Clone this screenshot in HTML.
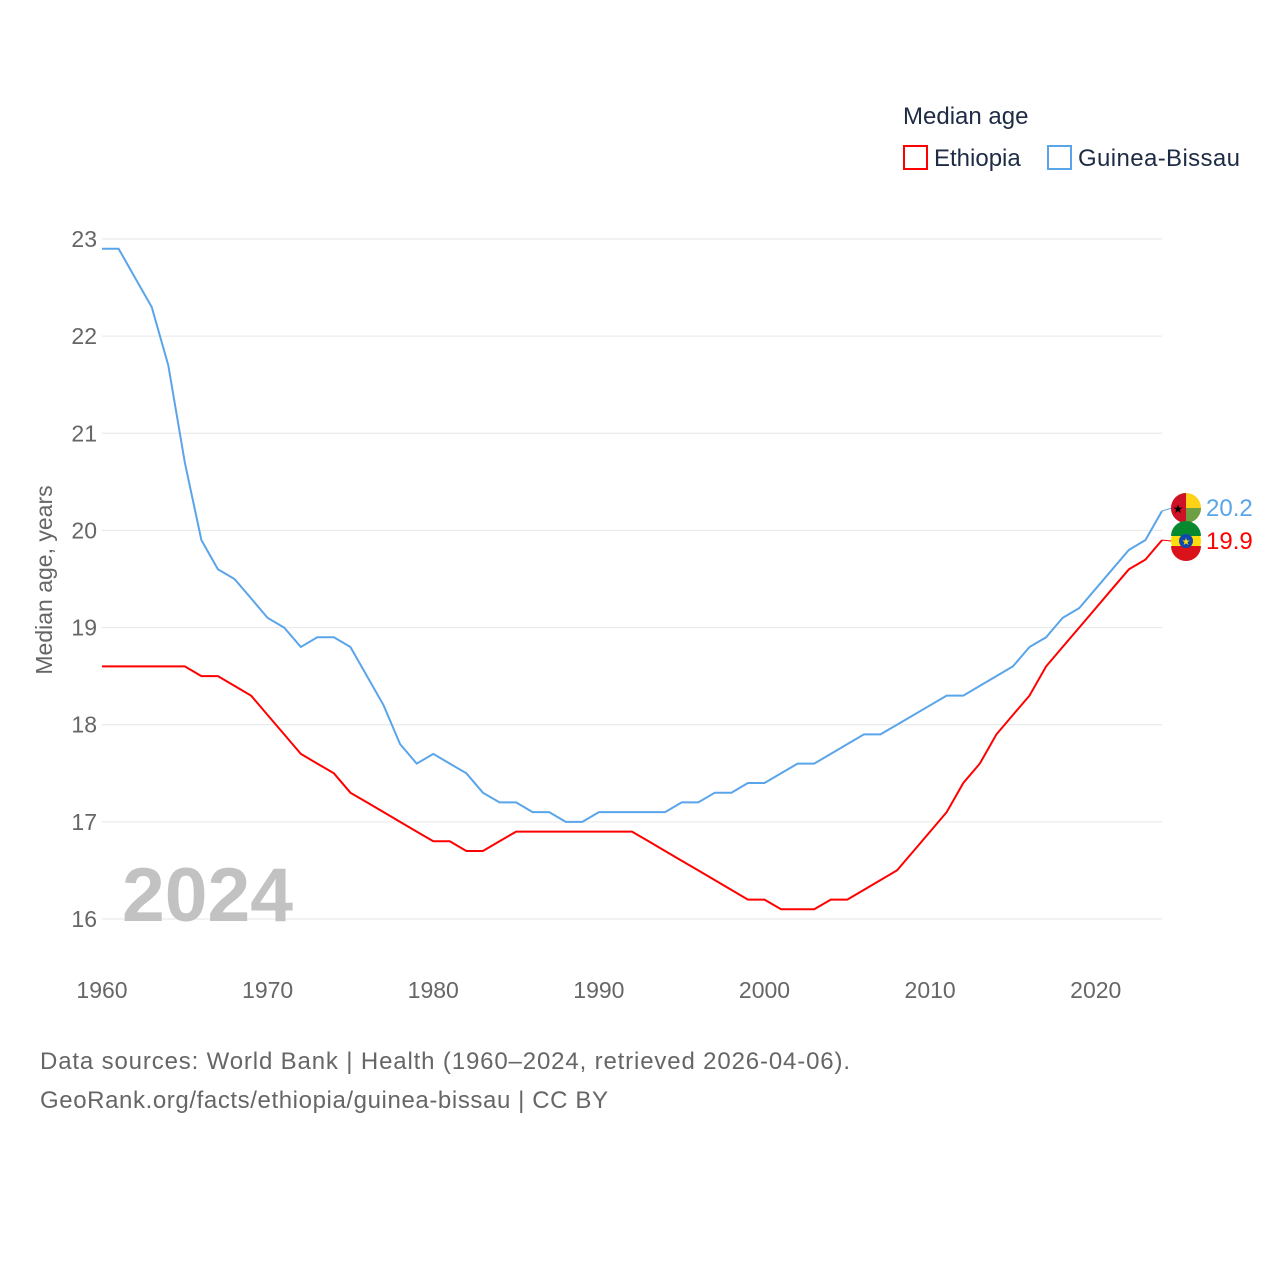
<!DOCTYPE html>
<html><head><meta charset="utf-8">
<style>
body{margin:0;background:#fff;font-family:"Liberation Sans",sans-serif;}
svg text{font-family:"Liberation Sans",sans-serif;}
</style></head>
<body>
<svg id="chart" width="1280" height="1280" viewBox="0 0 1280 1280">
  <g>
    <text x="903" y="124" font-size="24" fill="#1d2b44">Median age</text>
    <rect x="904" y="146" width="23" height="23" fill="none" stroke="#ff0000" stroke-width="2"/>
    <text x="934" y="166" font-size="24" fill="#1d2b44">Ethiopia</text>
    <rect x="1048" y="146" width="23" height="23" fill="none" stroke="#5aa5ea" stroke-width="2"/>
    <text x="1078" y="166" font-size="24" fill="#1d2b44" textLength="162">Guinea-Bissau</text>
  </g>
  <g id="grid"></g>
  <g id="yticks"></g>
  <g id="xticks"></g>
  <text x="52" y="580" font-size="23" fill="#666" transform="rotate(-90 52 580)" text-anchor="middle">Median age, years</text>
  <text x="122" y="921" font-size="76" font-weight="bold" fill="#c2c2c2" textLength="171" lengthAdjust="spacingAndGlyphs">2024</text>
  <g id="series"></g>
  <text x="40" y="1069" font-size="24" fill="#666" textLength="810">Data sources: World Bank | Health (1960–2024, retrieved 2026-04-06).</text>
  <text x="40" y="1108" font-size="24" fill="#666" textLength="568">GeoRank.org/facts/ethiopia/guinea-bissau | CC BY</text>
</svg>
<script>
const years = [];
for (let y = 1960; y <= 2024; y++) years.push(y);
const guineaBissau = [22.9,22.9,22.6,22.3,21.7,20.7,19.9,19.6,19.5,19.3,19.1,19.0,18.8,18.9,18.9,18.8,18.5,18.2,17.8,17.6,17.7,17.6,17.5,17.3,17.2,17.2,17.1,17.1,17.0,17.0,17.1,17.1,17.1,17.1,17.1,17.2,17.2,17.3,17.3,17.4,17.4,17.5,17.6,17.6,17.7,17.8,17.9,17.9,18.0,18.1,18.2,18.3,18.3,18.4,18.5,18.6,18.8,18.9,19.1,19.2,19.4,19.6,19.8,19.9,20.2];
const ethiopia = [18.6,18.6,18.6,18.6,18.6,18.6,18.5,18.5,18.4,18.3,18.1,17.9,17.7,17.6,17.5,17.3,17.2,17.1,17.0,16.9,16.8,16.8,16.7,16.7,16.8,16.9,16.9,16.9,16.9,16.9,16.9,16.9,16.9,16.8,16.7,16.6,16.5,16.4,16.3,16.2,16.2,16.1,16.1,16.1,16.2,16.2,16.3,16.4,16.5,16.7,16.9,17.1,17.4,17.6,17.9,18.1,18.3,18.6,18.8,19.0,19.2,19.4,19.6,19.7,19.9];
const yTicks = [16,17,18,19,20,21,22,23];
const xTicks = [1960,1970,1980,1990,2000,2010,2020];

const NS = "http://www.w3.org/2000/svg";
const x = v => 102 + (v - 1960) * (1162 - 102) / 64;
const y = v => 919 - (v - 16) * (919 - 239) / 7;
function mk(tag, attrs, parent, text) {
  const e = document.createElementNS(NS, tag);
  for (const k in attrs) e.setAttribute(k, attrs[k]);
  if (text !== undefined) e.textContent = text;
  parent.appendChild(e);
  return e;
}
const grid = document.getElementById('grid'), yt = document.getElementById('yticks'), xt = document.getElementById('xticks'), ser = document.getElementById('series');
yTicks.forEach(t => {
  const l = mk('line', {x1: 102, x2: 1162, y1: y(t), y2: y(t), stroke: '#e6e6e6', 'stroke-width': 1}, grid);
  
  
  const tx = mk('text', {x: 97, y: y(t) + 8, 'font-size': 23, fill: '#666', 'text-anchor': 'end'}, yt, String(t));
  
  
});
xTicks.forEach(t => {
  const tx = mk('text', {x: x(t), y: 998, 'font-size': 23, fill: '#666', 'text-anchor': 'middle'}, xt, String(t));
  
  
});
function line(vals, color, name) {
  const d = vals.map((v, i) => (i ? 'L' : 'M') + x(years[i]).toFixed(1) + ' ' + y(v).toFixed(1)).join(' ');
  const p = mk('path', {d: d, fill: 'none', stroke: color, 'stroke-width': 2}, ser);
  
  
}
line(guineaBissau, '#5aa5ea', 'guinea-bissau');
line(ethiopia, '#ff0000', 'ethiopia');

function endLabel(vals, color, name, ly, flag) {
  const last = vals[vals.length - 1];
  const ex = x(years[years.length - 1]);
  const c = mk('line', {x1: ex, x2: 1172, y1: y(last), y2: ly, stroke: color, 'stroke-width': 1}, ser);
  
  
  const g = mk('g', {}, ser);
  
  
  flag(g, 1186, ly);
  const t = mk('text', {x: 1206, y: ly + 8, 'font-size': 24, fill: color}, ser, last.toFixed(1));
  
  
}
endLabel(guineaBissau, '#5aa5ea', 'guinea-bissau', 508, (g, cx, cy) => {
  mk('circle', {cx: cx, cy: cy, r: 15, fill: '#fcd116'}, g);
  mk('path', {d: `M${cx} ${cy} L${cx+15} ${cy} A15 15 0 0 1 ${cx} ${cy+15} A15 15 0 0 1 ${cx-15} ${cy} Z`, fill: '#6f9f45'}, g);
  mk('path', {d: `M${cx} ${cy-15} A15 15 0 0 0 ${cx} ${cy+15} Z`, fill: '#ce1126'}, g);
  mk('text', {x: cx - 8, y: cy + 5, 'font-size': 12, fill: '#000', 'text-anchor': 'middle'}, g, '★');
});
endLabel(ethiopia, '#ff0000', 'ethiopia', 541, (g, cx, cy) => {
  mk('circle', {cx: cx, cy: cy, r: 15, fill: '#fcdd09'}, g);
  mk('path', {d: `M${cx-15} ${cy-5} A15 15 0 0 1 ${cx+15} ${cy-5} Z`, fill: '#078930'}, g);
  mk('path', {d: `M${cx-15} ${cy+5} A15 15 0 0 0 ${cx+15} ${cy+5} Z`, fill: '#da121a'}, g);
  mk('circle', {cx: cx, cy: cy, r: 7, fill: '#0f47af'}, g);
  mk('text', {x: cx, y: cy + 4, 'font-size': 10, fill: '#fcdd09', 'text-anchor': 'middle'}, g, '★');
});
</script>
</body></html>
